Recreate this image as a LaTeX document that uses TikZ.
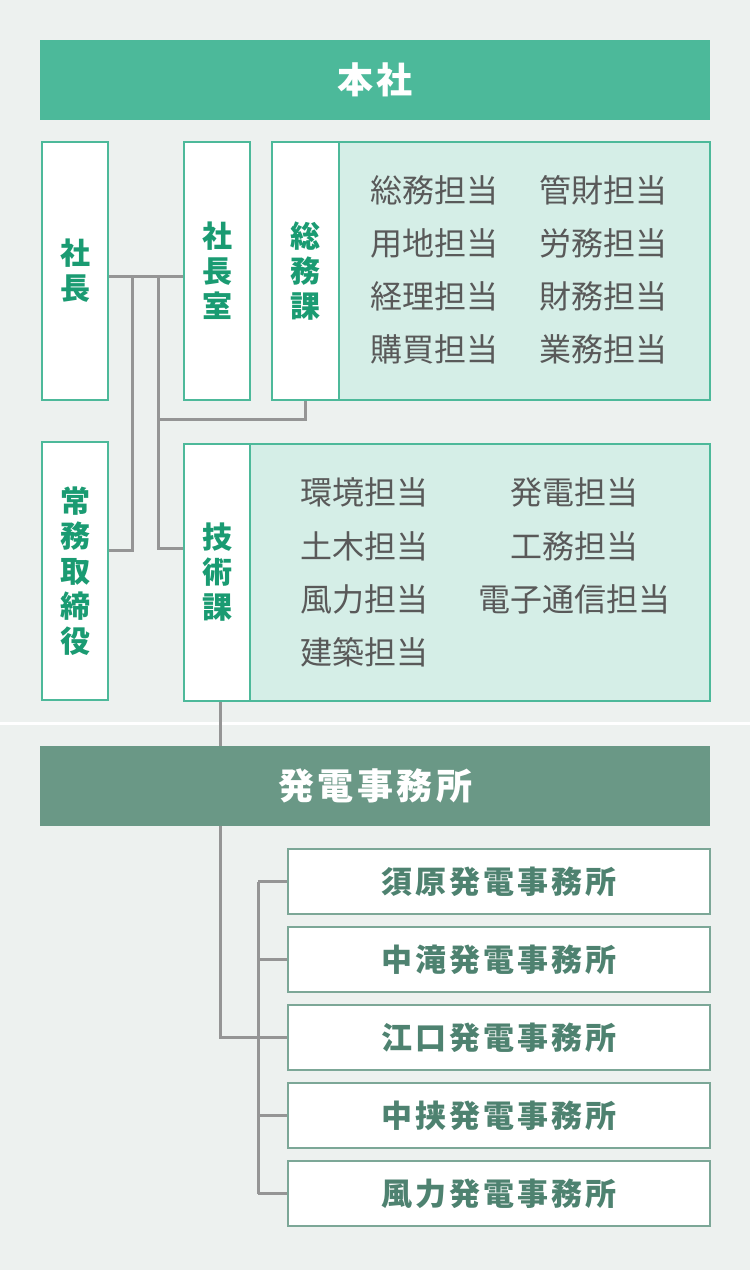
\documentclass[tikz,border=0pt]{standalone}
\usepackage{fontspec}
\setmainfont{Noto Sans CJK JP}
\newfontfamily\jpsp{Noto Sans CJK JP}[LetterSpace=10]
\definecolor{bg}{HTML}{EDF1EF}
\definecolor{hgreen}{HTML}{4CB99A}
\definecolor{bgreen}{HTML}{4DB99A}
\definecolor{vgreen}{HTML}{1A9B72}
\definecolor{panel}{HTML}{D5EEE7}
\definecolor{ptext}{HTML}{595959}
\definecolor{conncol}{HTML}{959595}
\definecolor{hdark}{HTML}{6A9886}
\definecolor{sborder}{HTML}{7CA797}
\definecolor{stext}{HTML}{4E8270}
\begin{document}
\begin{tikzpicture}[x=1pt,y=-1pt,
  gbox/.style={draw=bgreen, line width=2pt, fill=white, inner sep=0pt, anchor=north west,
    text=vgreen, align=center, font=\fontsize{30}{35}\selectfont\bfseries},
  pbox/.style={draw=bgreen, line width=2pt, fill=panel, inner sep=0pt, anchor=north west},
  ptxt/.style={text=ptext, inner sep=0pt, font=\fontsize{32}{36}\selectfont},
  hdrbox/.style={inner sep=0pt, anchor=north west, text=white,
    font=\fontsize{36}{40}\selectfont\bfseries\jpsp},
  sbox/.style={draw=sborder, line width=2pt, fill=white, inner sep=0pt, anchor=north west,
    minimum width=422, minimum height=65, text=stext,
    font=\fontsize{31}{35}\selectfont\bfseries\jpsp},
  conn/.style={draw=conncol, line width=3pt}
]
\fill[bg] (0,0) rectangle (750,1270);
\useasboundingbox (0,0) rectangle (750,1270);
\draw[white, line width=3pt] (0,723.5) -- (750,723.5);

% header
\node[hdrbox, fill=hgreen, minimum width=670, minimum height=80] (honsha) at (40,40) {本社};

% top boxes
\node[gbox, minimum width=66, minimum height=258] (shacho) at (41,141) {社\\長};
\node[gbox, minimum width=66, minimum height=258] (shitsu) at (183,141) {社\\長\\室};
\node[pbox, minimum width=371, minimum height=258] (somup) at (338,141) {};
\node[gbox, minimum width=67, minimum height=258] (somu) at (271,141) {総\\務\\課};
\node[gbox, minimum width=66, minimum height=258] (joumu) at (41,441) {常\\務\\取\\締\\役};
\node[pbox, minimum width=460, minimum height=257] (gijup) at (249,443) {};
\node[gbox, minimum width=66, minimum height=257] (giju) at (183,443) {技\\術\\課};

% panel texts
\node[ptxt] (s1) at (434,190) {総務担当};
\node[ptxt] (s2) at (434,243) {用地担当};
\node[ptxt] (s3) at (434,296) {経理担当};
\node[ptxt] (s4) at (434,349) {購買担当};
\node[ptxt] (s5) at (603,190) {管財担当};
\node[ptxt] (s6) at (603,243) {労務担当};
\node[ptxt] (s7) at (603,296) {財務担当};
\node[ptxt] (s8) at (603,349) {業務担当};

\node[ptxt] (g1) at (364,492) {環境担当};
\node[ptxt] (g2) at (364,546) {土木担当};
\node[ptxt] (g3) at (364,599) {風力担当};
\node[ptxt] (g4) at (364,652) {建築担当};
\node[ptxt] (g5) at (574,492) {発電担当};
\node[ptxt] (g6) at (574,546) {工務担当};
\node[ptxt] (g7) at (574,599) {電子通信担当};

% hatsuden header
\node[hdrbox, fill=hdark, minimum width=670, minimum height=80] (hatsu) at (40,746) {発電事務所};

% station boxes
\node[sbox] (st1) at (287,848) {須原発電事務所};
\node[sbox] (st2) at (287,926) {中滝発電事務所};
\node[sbox] (st3) at (287,1004) {江口発電事務所};
\node[sbox] (st4) at (287,1082) {中挟発電事務所};
\node[sbox] (st5) at (287,1160) {風力発電事務所};

% connectors
\coordinate (ja) at (132,276);
\coordinate (jb) at (158,276);
\draw[conn] (shacho.east |- ja) -- (shitsu.west |- ja);
\draw[conn] (ja) -- (132,550) -- (joumu.east |- 0,550);
\draw[conn] (jb) -- (158,548) -- (giju.west |- 0,548);
\draw[conn] (158,419) -- (somu.south |- 0,419) -- (somu.south);
\draw[conn] (giju.south -| 220,0) -- (hatsu.north -| 220,0);
\draw[conn] (hatsu.south -| 220,0) -- (220,1037) -- (st3.west |- 0,1037);
\coordinate (sv) at (258,0);
\draw[conn] (st1.west -| sv) -- (st5.west -| sv);
\draw[conn] (st1.west -| sv) -- (st1.west);
\draw[conn] (st2.west -| sv) -- (st2.west);
\draw[conn] (st4.west -| sv) -- (st4.west);
\draw[conn] (st5.west -| sv) -- (st5.west);
\end{tikzpicture}
\end{document}
